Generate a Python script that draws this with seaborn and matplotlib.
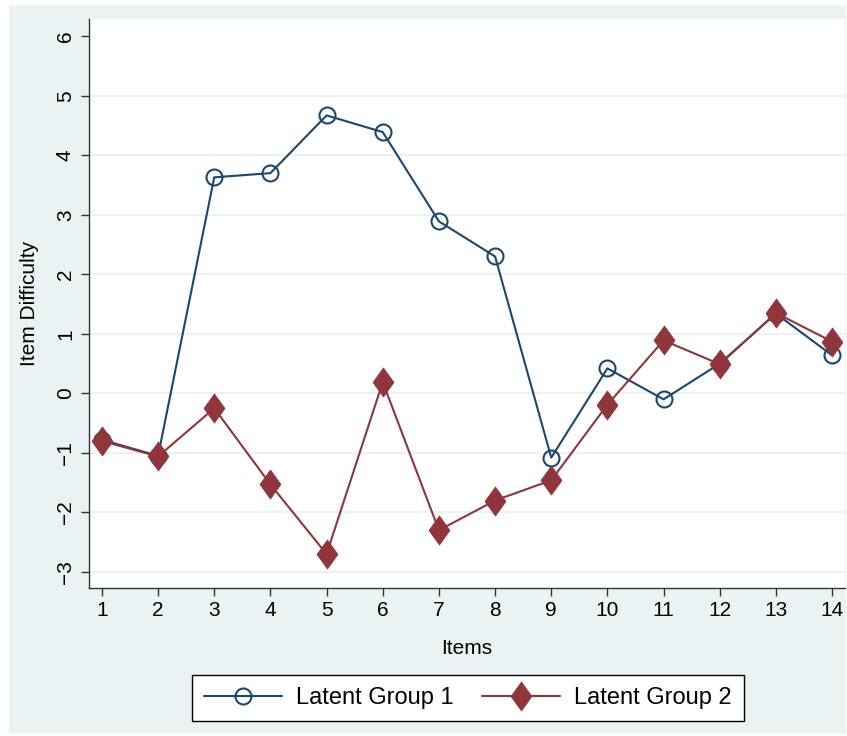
import matplotlib
matplotlib.use("Agg")
import matplotlib.pyplot as plt
import seaborn as sns
import pandas as pd
import numpy as np
from matplotlib.patches import Rectangle
from matplotlib.path import Path

items = list(range(1, 15))
group1 = [-0.78, -1.05, 3.63, 3.70, 4.67, 4.39, 2.89, 2.30, -1.08, 0.42, -0.10, 0.50, 1.34, 0.64]
group2 = [-0.80, -1.06, -0.25, -1.53, -2.70, 0.19, -2.30, -1.80, -1.46, -0.19, 0.89, 0.49, 1.35, 0.87]
series_names = ["Latent Group 1", "Latent Group 2"]
y_ticks = [-3, -2, -1, 0, 1, 2, 3, 4, 5, 6]
x_ticks = items

BLUE = "#1A476F"
RED = "#90353B"
BG = "#EAF2F3"

df = pd.DataFrame({
    "Items": items * 2,
    "Item Difficulty": group1 + group2,
    "Group": [series_names[0]] * len(items) + [series_names[1]] * len(items),
})

sns.set_style("white")
plt.rcParams["font.family"] = ["Liberation Sans", "DejaVu Sans"]
plt.rcParams["text.color"] = "black"

fig = plt.figure(figsize=(8.47, 7.36), dpi=100)
fig.patch.set_facecolor("white")
W, H = 847, 736
bg_rect = Rectangle((9 / W, 1 - 733 / H), (846 - 9) / W, (733 - 5) / H,
                    transform=fig.transFigure, facecolor=BG, edgecolor="none", zorder=-10)
fig.patches.append(bg_rect)

ax = fig.add_axes([89 / W, 1 - 588 / H, (845 - 89) / W, (588 - 19) / H])
ax.set_facecolor("white")

diamond = Path([(0, 1), (0.72, 0), (0, -1), (-0.72, 0), (0, 1)],
               [Path.MOVETO, Path.LINETO, Path.LINETO, Path.LINETO, Path.CLOSEPOLY])

d1 = df[df["Group"] == series_names[0]]
d2 = df[df["Group"] == series_names[1]]
sns.lineplot(data=d1, x="Items", y="Item Difficulty", ax=ax, color=BLUE, lw=1.5,
             marker="o", markersize=11.5, markerfacecolor="none",
             markeredgecolor=BLUE, markeredgewidth=1.5, label=series_names[0], legend=False)
sns.lineplot(data=d2, x="Items", y="Item Difficulty", ax=ax, color=RED, lw=1.5,
             marker=diamond, markersize=21, markerfacecolor=RED,
             markeredgecolor=RED, markeredgewidth=0.5, label=series_names[1], legend=False)
ax.lines[0].set_markerfacecolor("none")

ax.set_xlim(0.77, 14.23)
ax.set_ylim(-3.27, 6.29)
ax.set_xticks(x_ticks)
ax.set_yticks(y_ticks)
for v in y_ticks[:-1]:
    ax.axhline(v, color=BG, lw=1.5, zorder=0.5)

for s in ["top", "right"]:
    ax.spines[s].set_visible(False)
for s in ["left", "bottom"]:
    ax.spines[s].set_color("#333333")
    ax.spines[s].set_linewidth(1.0)

ax.tick_params(axis="both", direction="out", length=6, width=1.0, color="#333333",
               labelsize=15, labelcolor="black", pad=3, left=True, bottom=True)
for lab in ax.get_yticklabels():
    lab.set_rotation(90)
    lab.set_va("center")
    lab.set_ha("center")
ax.tick_params(axis="y", pad=11)

ax.set_xlabel("Items", fontsize=15, labelpad=14, color="black")
ax.set_ylabel("Item Difficulty", fontsize=15, labelpad=12, color="black")

handles = ax.get_lines()[:2]
leg = fig.legend(handles, series_names, loc="center", ncol=2,
                 bbox_to_anchor=(468 / W, 1 - 698 / H), fontsize=17,
                 frameon=True, fancybox=False, edgecolor="black", facecolor="white",
                 framealpha=1, handlelength=3.3, columnspacing=1.2, handletextpad=0.6,
                 borderpad=0.5, numpoints=1)
leg.get_frame().set_linewidth(1.0)
for t in leg.get_texts():
    t.set_color("black")

fig.savefig("out.png", dpi=100, facecolor=fig.get_facecolor())
